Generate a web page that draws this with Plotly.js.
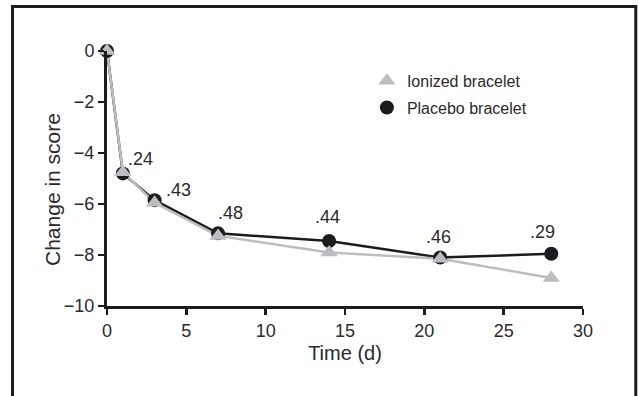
<!DOCTYPE html>
<html>
<head>
<meta charset="utf-8">
<script src="https://cdn.plot.ly/plotly-3.0.1.min.js"></script>
<style>
  html, body { margin: 0; padding: 0; background: #fff; }
  #chart { width: 639px; height: 396px; }
</style>
</head>
<body>
<div id="chart"></div>
<script>
// Data
const days = [0, 1, 3, 7, 14, 21, 28];
const ionizedY = [0, -4.75, -5.95, -7.25, -7.9, -8.15, -8.9];
const placeboY = [0, -4.8, -5.85, -7.15, -7.45, -8.1, -7.95];
const pDays = [1, 3, 7, 14, 21, 28];
const pLabels = ['.24', '.43', '.48', '.44', '.46', '.29'];
const xTicks = [0, 5, 10, 15, 20, 25, 30];
const yTicks = [0, -2, -4, -6, -8, -10];
const seriesNames = ['Ionized bracelet', 'Placebo bracelet'];
const xTitle = 'Time (d)';
const yTitle = 'Change in score';

const BLACK = '#1c1c1e';
const GRAY = '#bdbdc1';
const TEXT = '#2a2a2a';
const FONT = 'Liberation Sans, Arial, sans-serif';

const traces = [
  { x: days, y: placeboY, mode: 'lines', line: { color: BLACK, width: 2.5 },
    showlegend: false, hoverinfo: 'skip', cliponaxis: false },
  { x: days, y: ionizedY, mode: 'lines', line: { color: GRAY, width: 2.5 },
    showlegend: false, hoverinfo: 'skip', cliponaxis: false },
  { x: days, y: placeboY, mode: 'markers', name: seriesNames[1],
    marker: { symbol: 'circle', size: 14, color: BLACK },
    legendgroup: 'b', legendrank: 2, cliponaxis: false },
  { x: days, y: ionizedY, mode: 'markers', name: seriesNames[0],
    marker: { symbol: 'triangle-up', size: 15, color: GRAY },
    legendgroup: 'a', legendrank: 1, cliponaxis: false }
];

const shifts = [[18, 14], [24, 10], [12, 20], [-2, 24], [-2, 21], [-9, 22]];
const annotations = pDays.map((d, i) => {
  const idx = days.indexOf(d);
  return {
    x: d, y: placeboY[idx], xref: 'x', yref: 'y',
    text: pLabels[i], showarrow: false,
    xanchor: 'center', yanchor: 'middle',
    xshift: shifts[i][0], yshift: shifts[i][1],
    font: { family: FONT, size: 18, color: TEXT }
  };
});
// y-axis title (placed slightly below the axis centre, as in the reference)
annotations.push({
  xref: 'paper', yref: 'paper', x: -0.1134, y: 0.455,
  xanchor: 'center', yanchor: 'middle', textangle: -90,
  text: yTitle, showarrow: false,
  font: { family: FONT, size: 21, color: TEXT }
});

const layout = {
  width: 639, height: 396,
  margin: { l: 107, r: 56, t: 51, b: 90 },
  paper_bgcolor: '#ffffff', plot_bgcolor: '#ffffff',
  font: { family: FONT, color: TEXT },
  showlegend: true,
  legend: {
    x: 0.546, y: 0.95, xanchor: 'left', yanchor: 'top',
    bgcolor: 'rgba(0,0,0,0)', borderwidth: 0,
    traceorder: 'grouped', tracegroupgap: 3,
    font: { family: FONT, size: 16, color: TEXT }
  },
  xaxis: {
    range: [0, 30], tickvals: xTicks, ticktext: xTicks.map(String),
    showgrid: false, zeroline: false, showline: true,
    linecolor: BLACK, linewidth: 3,
    ticks: 'outside', ticklen: 6, tickwidth: 2.5, tickcolor: BLACK,
    tickfont: { family: FONT, size: 18, color: TEXT },
    title: { text: xTitle, font: { family: FONT, size: 20, color: TEXT }, standoff: 7 },
    automargin: false, fixedrange: true
  },
  yaxis: {
    range: [-10, 0], tickvals: yTicks,
    showgrid: false, zeroline: false, showline: true,
    linecolor: BLACK, linewidth: 3,
    ticks: 'outside', ticklen: 6, tickwidth: 2.5, tickcolor: BLACK,
    tickfont: { family: FONT, size: 18, color: TEXT },
    automargin: false, fixedrange: true
  },
  annotations: annotations,
  shapes: [{
    type: 'rect', xref: 'paper', yref: 'paper',
    x0: -0.1985, x1: 1.1109, y0: -0.37, y1: 1.1745,
    line: { color: BLACK, width: 3 }, fillcolor: 'rgba(0,0,0,0)', layer: 'above'
  }]
};

Plotly.newPlot('chart', traces, layout, { staticPlot: true, displayModeBar: false });
</script>
</body>
</html>
